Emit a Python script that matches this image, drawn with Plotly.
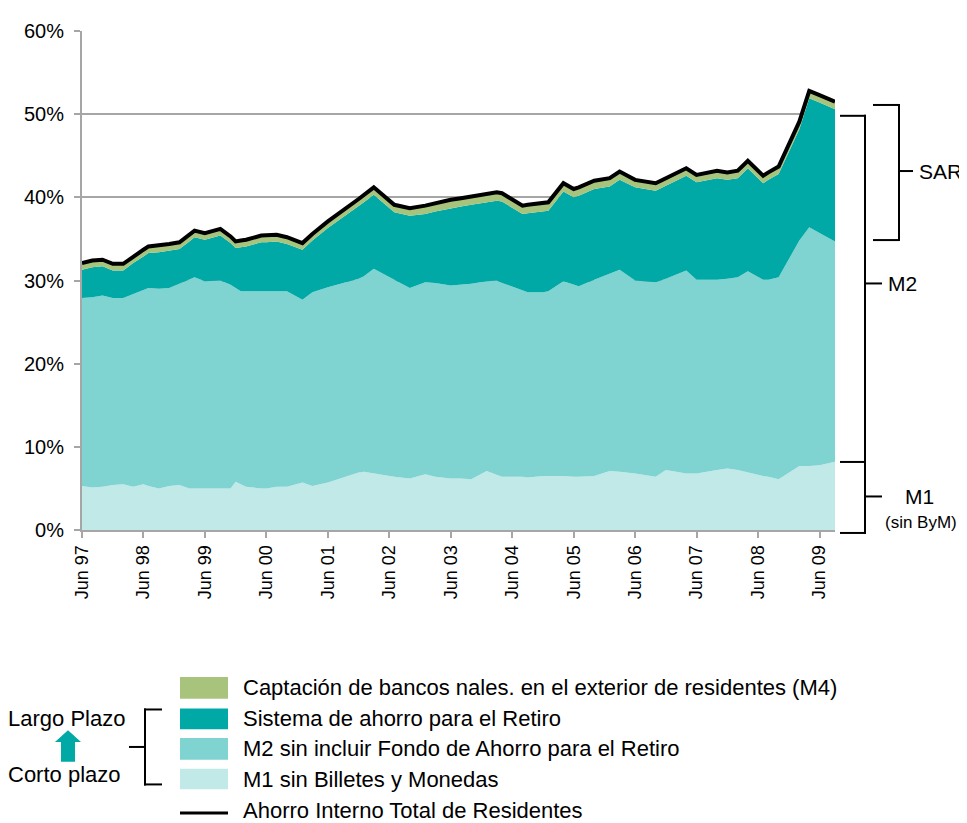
import plotly.graph_objects as go

# Fechas de los puntos (mes), ordenadas
fechas = [
    "1997-06-01", "1997-08-01", "1997-10-01", "1997-12-01", "1998-02-01", "1998-04-01",
    "1998-06-01", "1998-07-01", "1998-09-01", "1998-11-01", "1999-01-01", "1999-03-01",
    "1999-04-01", "1999-06-01", "1999-09-01", "1999-11-01", "1999-12-01", "2000-01-01",
    "2000-02-01", "2000-05-01", "2000-06-01", "2000-08-01", "2000-10-01", "2001-01-01",
    "2001-03-01", "2001-06-01", "2001-12-01", "2002-01-01", "2002-03-01", "2002-07-01",
    "2002-10-01", "2003-01-01", "2003-03-01", "2003-06-01", "2003-08-01", "2003-10-01",
    "2004-01-01", "2004-03-01", "2004-04-01", "2004-08-01", "2004-09-01", "2004-12-01",
    "2005-01-01", "2005-04-01", "2005-06-01", "2005-07-01", "2005-10-01", "2006-01-01",
    "2006-03-01", "2006-06-01", "2006-10-01", "2006-12-01", "2007-04-01", "2007-06-01",
    "2007-10-01", "2007-12-01", "2008-02-01", "2008-04-01", "2008-07-01", "2008-08-01",
    "2008-10-01", "2009-02-01", "2009-04-01", "2009-06-01", "2009-09-01",
]

# % del PIB
m1_sin_bym = [
    5.3, 5.1, 5.2, 5.4, 5.5, 5.2, 5.5, 5.3, 5.0, 5.3, 5.4, 5.0,
    5.0, 5.0, 5.0, 5.0, 5.8, 5.5, 5.2, 5.0, 5.0, 5.2, 5.2, 5.7,
    5.3, 5.7, 6.9, 7.0, 6.8, 6.4, 6.2, 6.7, 6.4, 6.2, 6.2, 6.1,
    7.1, 6.6, 6.4, 6.4, 6.3, 6.5, 6.5, 6.5, 6.4, 6.4, 6.5, 7.1,
    7.0, 6.8, 6.4, 7.2, 6.8, 6.8, 7.2, 7.4, 7.2, 6.9, 6.5, 6.4,
    6.1, 7.7, 7.7, 7.8, 8.2,
]
m2_sin_far = [
    22.6, 22.9, 23.0, 22.5, 22.4, 23.2, 23.4, 23.8, 24.0, 23.8, 24.2, 25.1,
    25.4, 24.9, 25.0, 24.5, 23.3, 23.2, 23.5, 23.7, 23.7, 23.5, 23.5, 22.0,
    23.3, 23.5, 23.3, 23.5, 24.6, 23.7, 22.9, 23.1, 23.3, 23.2, 23.3, 23.5,
    22.8, 23.4, 23.3, 22.4, 22.3, 22.1, 22.2, 23.4, 23.1, 22.9, 23.6, 23.7,
    24.3, 23.2, 23.4, 23.0, 24.4, 23.3, 22.9, 22.8, 23.2, 24.2, 23.6, 23.7,
    24.3, 27.1, 28.7, 27.9, 26.5,
]
sar = [
    3.4, 3.6, 3.5, 3.3, 3.3, 3.7, 4.0, 4.2, 4.4, 4.5, 4.2, 4.6,
    4.8, 5.0, 5.4, 5.0, 4.8, 5.3, 5.4, 5.9, 5.9, 6.0, 5.7, 6.0,
    6.2, 7.1, 8.7, 8.9, 8.9, 8.1, 8.7, 8.2, 8.6, 9.3, 9.4, 9.5,
    9.5, 9.6, 9.8, 9.2, 9.5, 9.7, 9.7, 10.8, 10.5, 10.9, 10.9, 10.5,
    10.8, 11.2, 11.0, 11.2, 11.4, 11.7, 12.2, 11.9, 11.9, 12.4, 11.6, 12.0,
    12.4, 13.4, 15.5, 15.7, 15.9,
]
captacion = [
    0.8, 0.8, 0.8, 0.8, 0.8, 0.8, 0.8, 0.8, 0.8, 0.8, 0.8, 0.8,
    0.8, 0.8, 0.8, 0.8, 0.8, 0.8, 0.8, 0.8, 0.8, 0.8, 0.8, 0.8,
    0.8, 0.8, 0.9, 0.9, 0.9, 0.9, 0.9, 1.0, 1.0, 1.0, 1.0, 1.0,
    1.0, 1.0, 1.0, 1.0, 1.0, 1.0, 1.0, 1.0, 1.0, 1.0, 1.0, 1.0,
    1.0, 0.9, 0.9, 0.9, 0.9, 0.9, 0.9, 0.9, 0.9, 0.9, 0.9, 0.9,
    0.9, 0.9, 0.9, 0.9, 0.9,
]
ahorro_total = [
    32.1, 32.4, 32.5, 32.0, 32.0, 32.9, 33.7, 34.1, 34.2, 34.4, 34.6, 35.5,
    36.0, 35.7, 36.2, 35.3, 34.7, 34.8, 34.9, 35.4, 35.4, 35.5, 35.2, 34.5,
    35.6, 37.1, 39.8, 40.3, 41.2, 39.1, 38.7, 39.0, 39.3, 39.7, 39.9, 40.1,
    40.4, 40.6, 40.5, 39.0, 39.1, 39.3, 39.4, 41.7, 41.0, 41.2, 42.0, 42.3,
    43.1, 42.1, 41.7, 42.3, 43.5, 42.7, 43.2, 43.0, 43.2, 44.4, 42.6, 43.0,
    43.7, 49.1, 52.8, 52.3, 51.5,
]

tick_fechas = ["%d-06-01" % a for a in range(1997, 2010)]
tick_labels = ["Jun 97", "Jun 98", "Jun 99", "Jun 00", "Jun 01", "Jun 02", "Jun 03",
               "Jun 04", "Jun 05", "Jun 06", "Jun 07", "Jun 08", "Jun 09"]
y_ticks = [0, 10, 20, 30, 40, 50, 60]
y_labels = ["0%", "10%", "20%", "30%", "40%", "50%", "60%"]

series = [
    ("M1 sin Billetes y Monedas", m1_sin_bym, "#c0e9e8"),
    ("M2 sin incluir Fondo de Ahorro para el Retiro", m2_sin_far, "#7fd3d1"),
    ("Sistema de ahorro para el Retiro", sar, "#00a9a5"),
    ("Captación de bancos nales. en el exterior de residentes (M4)", captacion, "#a8c47c"),
]

FONT = "Liberation Sans, Arial, sans-serif"
# la página deja 8 px de margen en el body
OFF = 8
W, H = 967 - OFF, 823 - OFF
L, R, T, B = 82 - OFF, 835 - OFF, 24 - OFF, 530 - OFF


def px(x):
    # x en píxeles de la pantalla
    return (x - OFF - L) / (R - L)


def py(y):
    return (B - (y - OFF)) / (B - T)


fig = go.Figure()
for nombre, vals, color in series:
    fig.add_trace(go.Scatter(x=fechas, y=vals, name=nombre, mode="lines",
                             stackgroup="uno", line=dict(width=0, color=color),
                             fillcolor=color, showlegend=False))
fig.add_trace(go.Scatter(x=fechas, y=ahorro_total, name="Ahorro Interno Total de Residentes",
                         mode="lines", line=dict(color="black", width=4), showlegend=False))

shapes = []


def seg(x0, y0, x1, y1, w=2, color="black"):
    shapes.append(dict(type="line", xref="paper", yref="paper",
                       x0=px(x0), y0=py(y0), x1=px(x1), y1=py(y1),
                       line=dict(color=color, width=w)))


annots = []


def txt(x, y, s, size=22, anchor="left"):
    annots.append(dict(xref="paper", yref="paper", x=px(x), y=py(y), text=s,
                       showarrow=False, xanchor=anchor, yanchor="middle",
                       font=dict(size=size, color="black", family=FONT)))


# corchetes a la derecha
seg(873, 99, 899, 99); seg(899, 98, 899, 237); seg(873, 236, 899, 236); seg(899, 166, 913, 166)
seg(840, 110, 866, 110); seg(865, 109, 865, 534); seg(840, 533, 866, 533); seg(865, 280, 882, 280)
seg(840, 461, 866, 461); seg(865, 496, 882, 496)
txt(917, 166, "SAR", 21)
txt(886, 280, "M2", 21)
txt(920, 496, "M1", 21, "center")
txt(921, 522, "(sin ByM)", 17, "center")

# leyenda manual
ley_y = [(679, 701), (711, 732), (741, 763), (772, 793)]
for (y0, y1), (nombre, vals, color) in zip(ley_y, series[::-1]):
    shapes.append(dict(type="rect", xref="paper", yref="paper", x0=px(180), x1=px(228),
                       y0=py(y1), y1=py(y0), line=dict(width=0), fillcolor=color))
    txt(241, (y0 + y1) / 2, nombre)
seg(180, 817, 228, 817, 3)
txt(241, 814, "Ahorro Interno Total de Residentes")

seg(145, 711, 145, 789); seg(144, 712, 162, 712); seg(144, 788, 162, 788); seg(129, 750, 145, 750)
txt(6, 721, "Largo Plazo")
txt(6, 778, "Corto plazo")
flecha = "M %f %f L %f %f L %f %f L %f %f L %f %f L %f %f L %f %f Z" % (
    px(61), py(765), px(61), py(745), px(55), py(745), px(68), py(733),
    px(81), py(745), px(75), py(745), px(75), py(765))
shapes.append(dict(type="path", xref="paper", yref="paper", path=flecha,
                   fillcolor="#00a9a5", line=dict(width=0)))

fig.update_layout(
    width=W, height=H,
    margin=dict(l=L, r=W - R, t=T, b=H - B),
    plot_bgcolor="white", paper_bgcolor="white",
    font=dict(family=FONT, color="black"),
    shapes=shapes, annotations=annots,
    xaxis=dict(type="date", range=["1997-06-01", "2009-09-01"],
               tickvals=tick_fechas, ticktext=tick_labels, tickangle=-90,
               tickfont=dict(size=18), showgrid=False, showline=True,
               linecolor="#a6a6a6", linewidth=2, ticks="outside",
               tickcolor="#a6a6a6", tickwidth=2, ticklen=6, zeroline=False),
    yaxis=dict(range=[0, 60], tickvals=y_ticks, ticktext=y_labels,
               tickfont=dict(size=20), showgrid=True, ticklabelstandoff=6,
               gridcolor="#a6a6a6", gridwidth=2, showline=True,
               linecolor="#a6a6a6", linewidth=2, ticks="outside",
               tickcolor="#a6a6a6", tickwidth=2, ticklen=6, zeroline=False),
)

fig.write_html("out.html")
